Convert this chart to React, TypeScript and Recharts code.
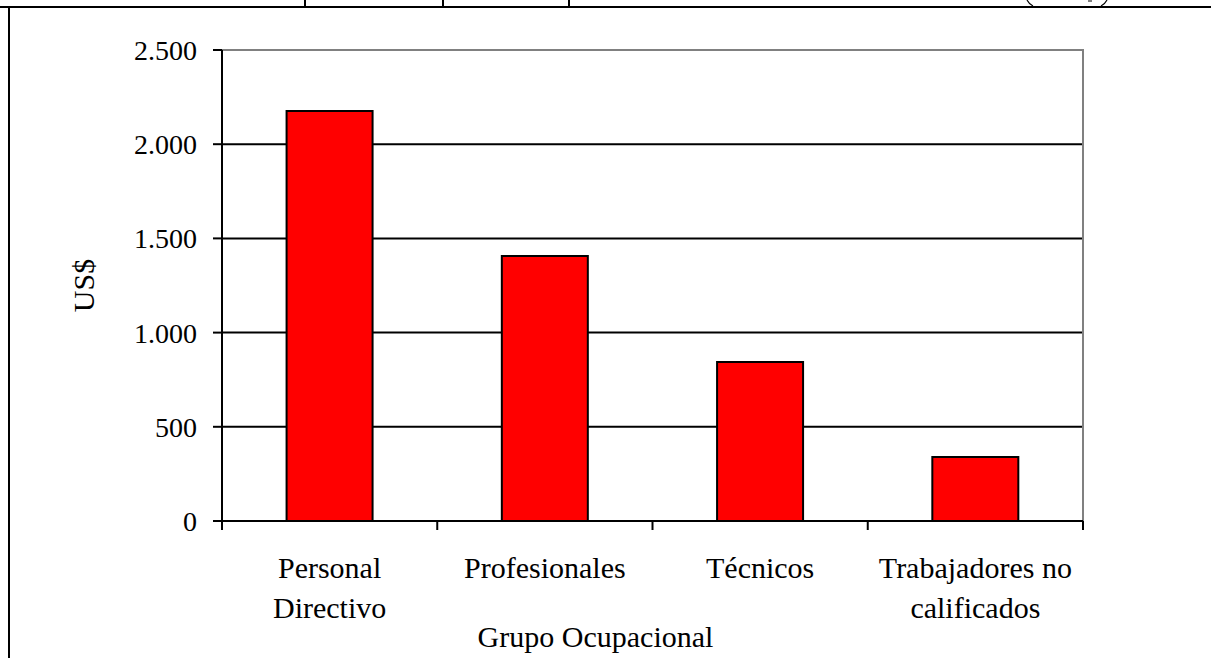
import React from 'react';
import { BarChart, Bar, XAxis, YAxis, CartesianGrid, ReferenceArea } from 'recharts';

// Salario promedio por grupo ocupacional
const categories = ['Personal Directivo', 'Profesionales', 'Técnicos', 'Trabajadores no calificados'];
const tickLines = [['Personal', 'Directivo'], ['Profesionales'], ['Técnicos'], ['Trabajadores no', 'calificados']];
const salaries = [2176, 1406, 844, 340];
const yTicks = [0, 500, 1000, 1500, 2000, 2500];
const gridValues = [500, 1000, 1500, 2000];

const WIDTH = 1211;
const HEIGHT = 658;
const MARGIN = { top: 50, right: 128, bottom: 0, left: 0 };
const Y_AXIS_W = 222;
const X_AXIS_H = 137;
const FONT = '"Liberation Serif", "Times New Roman", serif';

const formatThousands = (v: number) => String(v).replace(/\B(?=(\d{3})+(?!\d))/g, '.');

const CategoryTick = (props: any) => {
  const { x, y, payload, index } = props;
  const plotW = WIDTH - MARGIN.left - MARGIN.right - Y_AXIS_W;
  const half = plotW / categories.length / 2;
  const idx = typeof index === 'number' ? index : categories.indexOf(payload.value);
  const lines = tickLines[idx] || [payload.value];
  return (
    <g>
      <line x1={x - half} x2={x - half} y1={y} y2={y + 9} stroke="#000" strokeWidth={2} />
      {idx === categories.length - 1 && (
        <line x1={x + half} x2={x + half} y1={y} y2={y + 9} stroke="#000" strokeWidth={2} />
      )}
      <text x={x} y={y} textAnchor="middle" fill="#000" fontSize={30} fontFamily={FONT}>
        {lines.map((l, i) => (
          <tspan key={i} x={x} dy={i === 0 ? 57 : 40}>{l}</tspan>
        ))}
      </text>
    </g>
  );
};

const data = categories.map((c, i) => ({ name: c, value: salaries[i] }));

export default function App() {
  return (
    <div style={{ position: 'relative', width: WIDTH, height: HEIGHT, overflow: 'hidden', background: '#fff' }}>
      <style>{'body{margin:0}'}</style>
      {/* frame of the cell the chart sits in */}
      <div style={{ position: 'absolute', left: 0, top: 6, width: WIDTH, height: 2, background: '#000' }} />
      <div style={{ position: 'absolute', left: 8, top: 6, width: 2, height: HEIGHT, background: '#000' }} />
      <svg width={WIDTH} height={10} style={{ position: 'absolute', left: 0, top: 0 }}>
        <line x1={305} x2={305} y1={0} y2={7} stroke="#000" strokeWidth={2} />
        <line x1={443} x2={443} y1={0} y2={7} stroke="#000" strokeWidth={2} />
        <line x1={569} x2={569} y1={0} y2={7} stroke="#000" strokeWidth={2} />
        <path d="M1027,0 Q1029,4 1033,6" fill="none" stroke="#000" strokeWidth={1.2} />
        <path d="M1107,0 Q1105,4 1101,6" fill="none" stroke="#000" strokeWidth={1.2} />
        <line x1={1089} x2={1089} y1={0} y2={2} stroke="#000" strokeWidth={1} />
        <line x1={1091} x2={1091} y1={0} y2={2} stroke="#000" strokeWidth={1} />
      </svg>
      <div style={{ position: 'absolute', left: 0, top: 0 }}>
        <BarChart width={WIDTH} height={HEIGHT} data={data} margin={MARGIN} barCategoryGap="30%">
          <CartesianGrid vertical={false} horizontalValues={gridValues} stroke="#000" strokeWidth={2} />
          <ReferenceArea
            x1={categories[0]}
            x2={categories[categories.length - 1]}
            y1={0}
            y2={2500}
            fill="none"
            stroke="#808080"
            strokeWidth={2}
            ifOverflow="visible"
          />
          <XAxis
            dataKey="name"
            height={X_AXIS_H}
            axisLine={{ stroke: '#000', strokeWidth: 2 }}
            tickLine={false}
            tickSize={0}
            tickMargin={0}
            interval={0}
            tick={<CategoryTick />}
            label={{
              value: 'Grupo Ocupacional',
              position: 'insideBottom',
              offset: 11,
              dx: -57,
              fill: '#000',
              fontSize: 30,
              fontFamily: FONT,
            }}
          />
          <YAxis
            width={Y_AXIS_W}
            domain={[0, 2500]}
            ticks={yTicks}
            tickFormatter={formatThousands}
            axisLine={{ stroke: '#000', strokeWidth: 2 }}
            tickLine={{ stroke: '#000', strokeWidth: 2 }}
            tickSize={9}
            tickMargin={16}
            tick={{ fill: '#000', fontSize: 28, fontFamily: FONT }}
            label={{
              value: 'US$',
              angle: -90,
              position: 'center',
              dx: -28,
              fill: '#000',
              fontSize: 30,
              fontFamily: FONT,
            }}
          />
          <Bar dataKey="value" fill="#FF0000" stroke="#000" strokeWidth={2} isAnimationActive={false} />
        </BarChart>
      </div>
    </div>
  );
}
